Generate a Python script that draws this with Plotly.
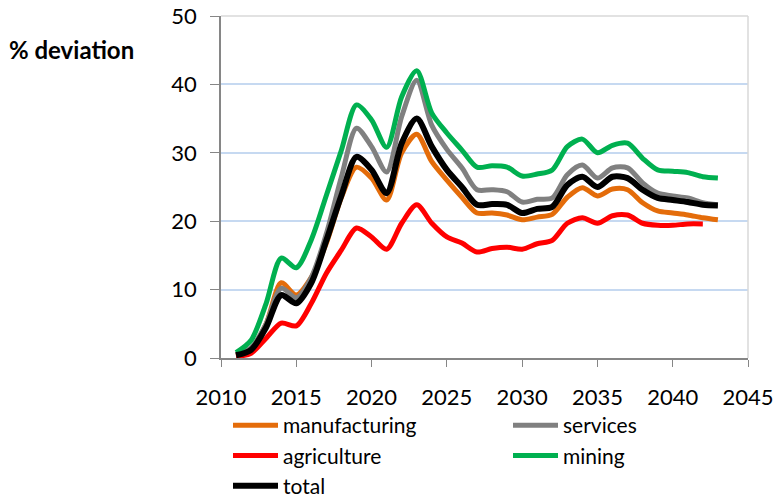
import plotly.graph_objects as go

years = list(range(2011, 2044))
manufacturing = [0.4, 1.3, 5.0, 11.0, 9.2, 11.8, 16.8, 23.5, 27.9, 26.3, 23.1, 30.0, 32.7,
                 28.7, 26.0, 23.5, 21.2, 21.2, 20.9, 20.2, 20.6, 21.0, 23.5, 24.9, 23.7,
                 24.7, 24.6, 22.7, 21.5, 21.2, 20.9, 20.5, 20.2]
services = [0.5, 1.5, 5.0, 10.2, 8.8, 11.8, 18.2, 26.5, 33.6, 30.9, 27.2, 35.3, 40.6,
            34.0, 30.5, 27.8, 24.6, 24.6, 24.3, 22.8, 23.2, 23.4, 26.8, 28.2, 26.3,
            27.8, 27.8, 25.6, 24.1, 23.7, 23.4, 22.7, 22.4]
agriculture = [0.2, 0.7, 2.9, 5.1, 4.7, 8.0, 12.4, 15.8, 19.0, 17.7, 15.9, 19.7, 22.4,
               19.7, 17.7, 16.8, 15.5, 16.0, 16.2, 15.9, 16.7, 17.2, 19.7, 20.5, 19.7,
               20.8, 20.9, 19.7, 19.4, 19.4, 19.6, 19.6]
mining = [0.8, 2.6, 8.0, 14.6, 13.2, 17.3, 23.8, 30.4, 37.0, 34.8, 30.8, 38.2, 42.0,
          35.8, 32.9, 30.4, 27.9, 28.1, 27.9, 26.6, 26.9, 27.5, 30.9, 32.0, 30.0,
          31.1, 31.4, 29.2, 27.5, 27.3, 27.1, 26.5, 26.3]
total = [0.4, 1.2, 4.5, 9.2, 8.0, 11.0, 17.2, 23.8, 29.4, 27.5, 24.1, 31.4, 35.0,
         30.9, 27.5, 25.0, 22.4, 22.5, 22.4, 21.2, 21.8, 22.1, 25.3, 26.5, 25.0,
         26.5, 26.3, 24.6, 23.4, 23.1, 22.8, 22.4, 22.3]

x_ticks = [2010, 2015, 2020, 2025, 2030, 2035, 2040, 2045]
y_ticks = [0, 10, 20, 30, 40, 50]

FONT = "Lato"
FS = 22
LFS = 21

series = [
    ("manufacturing", manufacturing, "#E46C0A", 5, "legend"),
    ("services", services, "#808080", 5, "legend2"),
    ("agriculture", agriculture, "#FF0000", 5, "legend"),
    ("mining", mining, "#00B050", 5, "legend2"),
    ("total", total, "#000000", 6, "legend"),
]

fig = go.Figure()
for name, vals, color, w, leg in series:
    fig.add_trace(go.Scatter(
        x=years[:len(vals)], y=vals, name=name, mode="lines",
        line=dict(color=color, width=w, shape="spline", smoothing=0.8),
        legend=leg,
    ))

W, H = 776, 497
fig.update_layout(
    width=W, height=H,
    margin=dict(l=221, r=28, t=16, b=139, autoexpand=False),
    paper_bgcolor="white", plot_bgcolor="white",
    font=dict(family=FONT, size=FS, color="black"),
    xaxis=dict(range=[2010, 2045], tickvals=x_ticks, showgrid=False,
               showline=True, linecolor="#868686", linewidth=1.5,
               ticks="outside", ticklen=7, tickcolor="#868686",
               ticklabelstandoff=12,
               zeroline=False, tickfont=dict(size=FS), automargin=False),
    yaxis=dict(range=[0, 50], tickvals=y_ticks, showgrid=True,
               gridcolor="#C6D9F1", gridwidth=1.5,
               showline=True, linecolor="#868686", linewidth=1.5,
               ticks="outside", ticklen=9, tickcolor="#868686",
               ticklabelstandoff=9,
               zeroline=False, tickfont=dict(size=FS), automargin=False),
    legend=dict(xref="container", yref="container",
                x=228 / W, y=1 - 405 / H, xanchor="left", yanchor="top",
                orientation="v", font=dict(size=LFS), itemwidth=45,
                tracegroupgap=0, bgcolor="rgba(0,0,0,0)"),
    legend2=dict(xref="container", yref="container",
                 x=508 / W, y=1 - 405 / H, xanchor="left", yanchor="top",
                 orientation="v", font=dict(size=LFS), itemwidth=45,
                 tracegroupgap=0, bgcolor="rgba(0,0,0,0)"),
    showlegend=True,
    shapes=[
        dict(type="line", xref="paper", yref="paper", x0=0, x1=1, y0=1, y1=1,
             line=dict(color="#D9D9D9", width=1.5)),
        dict(type="line", xref="paper", yref="paper", x0=1, x1=1, y0=0, y1=1,
             line=dict(color="#D9D9D9", width=1.5)),
    ],
    annotations=[
        dict(text="<b>% deviation</b>", xref="paper", yref="paper",
             x=-214 / 527, y=1 - 34 / 342, xanchor="left", yanchor="middle",
             showarrow=False, font=dict(size=24, family=FONT)),
    ],
)

fig.write_html(
    "out.html",
    config={"displayModeBar": False},
    post_script="document.body.style.margin='0';document.body.style.overflow='hidden';",
)
